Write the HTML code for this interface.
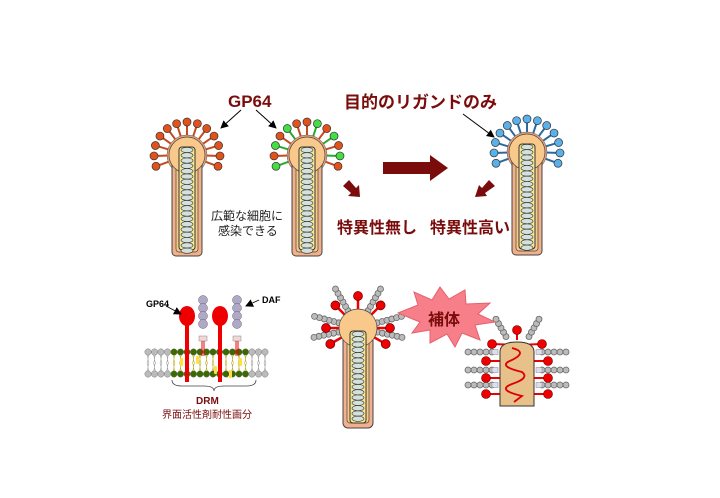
<!DOCTYPE html>
<html><head><meta charset="utf-8"><style>
html,body{margin:0;padding:0;background:#fff;}
svg{display:block;}
text{font-family:"Liberation Sans","Noto Sans CJK JP",sans-serif;}
</style></head><body>
<svg id="s" width="720" height="498" viewBox="0 0 720 498" xmlns="http://www.w3.org/2000/svg">
<defs>
<marker id="ah" markerWidth="8" markerHeight="8" refX="7" refY="4" orient="auto" markerUnits="userSpaceOnUse"><path d="M0,0 L8,4 L0,8 z" fill="#000"/></marker>
</defs>
<g id="g"></g>
<text x="228" y="107" font-size="17" font-weight="bold" fill="#7a0c0c">GP64</text>
<text x="344" y="108" font-size="17" font-weight="bold" fill="#7a0c0c">目的のリガンドのみ</text>
<text x="337" y="233" font-size="16" font-weight="bold" fill="#7a0c0c">特異性無し</text>
<text x="430" y="233" font-size="16" font-weight="bold" fill="#7a0c0c">特異性高い</text>
<text x="211" y="220" font-size="12" fill="#222">広範な細胞に</text>
<text x="218" y="235" font-size="12" fill="#222">感染できる</text>
<line x1="241" y1="110" x2="221" y2="128" stroke="#000" stroke-width="1" marker-end="url(#ah)"/>
<line x1="256" y1="110" x2="276" y2="128" stroke="#000" stroke-width="1" marker-end="url(#ah)"/>
<line x1="463" y1="114" x2="494" y2="137" stroke="#000" stroke-width="1" marker-end="url(#ah)"/>
<path d="M383,162 L430,162 L430,155 L448,168 L430,181 L430,174 L383,174 z" fill="#7a0c0c"/>
<path d="M343,186 L349,180 L356,188 L359,185 L360,197 L348,196 L351,193 z" fill="#7a0c0c"/>
<path d="M495,186 L489,180 L482,188 L479,185 L475,197 L487,196 L485,193 z" fill="#7a0c0c"/>
<text x="146" y="307" font-size="9" font-weight="bold" fill="#000">GP64</text>
<line x1="166" y1="306" x2="181" y2="314" stroke="#000" stroke-width="0.8" marker-end="url(#ah)"/>
<text x="262" y="303" font-size="9" font-weight="bold" fill="#000">DAF</text>
<line x1="259" y1="300" x2="246" y2="306" stroke="#000" stroke-width="0.8" marker-end="url(#ah)"/>
<path d="M172,380 q0,6 10,6 l22,0 q10,0 10,5 q0,-5 10,-5 l22,0 q10,0 10,-6" fill="none" stroke="#444" stroke-width="0.8"/>
<text x="196" y="404" font-size="10" font-weight="bold" fill="#7a0c0c">DRM</text>
<text x="162" y="418" font-size="10" fill="#7a0c0c">界面活性剤耐性画分</text>
<path d="M398,313 L418,305 L414,292 L432,300 L440,287 L449,299 L465,290 L466,304 L490,303 L478,314 L495,322 L475,325 L480,340 L462,333 L455,347 L447,334 L430,343 L430,330 L412,333 L420,322 z" fill="#f77f8a" stroke="#e5606c" stroke-width="1"/>
<text x="428" y="325" font-size="16" font-weight="bold" fill="#7a0c0c">補体</text>
</svg>
<script>
const g=document.getElementById('g');let h='';
function virus(cx,cy,cols,bot,r){
 r=r||18;
 const bx=cx-14,bw=28;
 let n=cols.length;
 for(let i=0;i<n;i++){
  const a=(200-220*i/(n-1))*Math.PI/180;
  const x1=cx+Math.cos(a)*r,y1=cy-Math.sin(a)*r,x2=cx+Math.cos(a)*33,y2=cy-Math.sin(a)*33;
  h+=`<line x1="${x1}" y1="${y1}" x2="${x2}" y2="${y2}" stroke="${cols[i][1]}" stroke-width="2"/>`;
  h+=`<circle cx="${x2}" cy="${y2}" r="4" fill="${cols[i][0]}" stroke="#333" stroke-width="0.7"/>`;
 }
 h+=`<circle cx="${cx}" cy="${cy}" r="${r+2}" fill="#e8a07a" stroke="#555" stroke-width="0.5"/>`;
 h+=`<rect x="${bx-1}" y="${cy}" width="${bw+2}" height="${bot-cy}" rx="4" fill="#f0b08a" stroke="#444" stroke-width="1"/>`;
 h+=`<rect x="${bx+3}" y="${cy}" width="${bw-6}" height="${bot-cy-4}" rx="3" fill="#f8c98a" stroke="#444" stroke-width="0.7"/>`;
 h+=`<circle cx="${cx}" cy="${cy}" r="${r}" fill="#f8c98a" stroke="#444" stroke-width="0.7"/>`;
 h+=`<rect x="${cx-8}" y="${cy-8}" width="16" height="${bot-cy+2}" rx="3" fill="#f7ea90" stroke="#333" stroke-width="1"/>`;
 for(let y=cy-5;y<bot-4;y+=5.3){h+=`<ellipse cx="${cx}" cy="${y}" rx="6" ry="2.6" fill="#d4e0dc" stroke="#333" stroke-width="0.6"/>`;}
}
const O=['#e4521c','#c44a20'],G=['#44dd44','#2aaa2a'],B=['#5ab0e8','#2a6aa0'];
virus(187,155,Array(13).fill(O),256);
virus(307,155,[G,O,G,O,G,O,O,G,O,G,O,G,O],256);
virus(527,152,Array(13).fill(B),255);
function chain(x,y,a,len,n){const c=Math.cos(a),s=Math.sin(a);for(let i=0;i<n;i++){const d=len+i*5;h+=`<circle cx="${x+c*d}" cy="${y-s*d}" r="3" fill="#bbb" stroke="#666" stroke-width="0.8"/>`;}}
(function(){const cx=358,cy=328;
 [60,120,15,165,-12,192].forEach(d=>chain(cx,cy,d*Math.PI/180,20,6));
 [90,45,135,0,180,-30,210].forEach(d=>{const a=d*Math.PI/180;const x2=cx+Math.cos(a)*32,y2=cy-Math.sin(a)*32;
  h+=`<line x1="${cx+Math.cos(a)*18}" y1="${cy-Math.sin(a)*18}" x2="${x2}" y2="${y2}" stroke="#e00" stroke-width="2.5"/><circle cx="${x2}" cy="${y2}" r="4.5" fill="#e00" stroke="#600" stroke-width="0.7"/>`;});
 h+=`<rect x="343" y="328" width="30" height="100" rx="5" fill="#f4b08c" stroke="#444"/><rect x="347" y="328" width="22" height="95" rx="3" fill="#f8c98a" stroke="#444" stroke-width="0.7"/><circle cx="${cx}" cy="${cy}" r="19" fill="#f8c98a" stroke="#444" stroke-width="0.7"/>`;
 h+=`<rect x="350" y="331" width="16" height="92" rx="3" fill="#f7ea90" stroke="#333"/>`;
 for(let y=334;y<420;y+=5.3)h+=`<ellipse cx="358" cy="${y}" rx="6" ry="2.6" fill="#d4e0dc" stroke="#333" stroke-width="0.6"/>`;
})();
(function(){
 chain(508,340,120*Math.PI/180,4,5);chain(527,340,60*Math.PI/180,4,5);
 [352,370,385].forEach(y=>{for(let i=0;i<5;i++){h+=`<circle cx="${492-i*6}" cy="${y}" r="3" fill="#bbb" stroke="#666" stroke-width="0.8"/><circle cx="${542+i*6}" cy="${y}" r="3" fill="#bbb" stroke="#666" stroke-width="0.8"/>`;}h+=`<rect x="492" y="${y-2.5}" width="6" height="5" fill="#dde" stroke="#888" stroke-width="0.5"/><rect x="536" y="${y-2.5}" width="6" height="5" fill="#dde" stroke="#888" stroke-width="0.5"/>`;});
 h+=`<line x1="517" y1="340" x2="517" y2="330" stroke="#e00" stroke-width="2"/><circle cx="517" cy="330" r="4.5" fill="#e00" stroke="#600" stroke-width="0.6"/>`;
 [[492,344],[542,344]].forEach(p=>h+=`<line x1="517" y1="345" x2="${p[0]}" y2="${p[1]}" stroke="#e00" stroke-width="2"/><circle cx="${p[0]}" cy="${p[1]}" r="4.5" fill="#e00" stroke="#600" stroke-width="0.6"/>`);
 [361,378,394].forEach(y=>{h+=`<line x1="486" y1="${y}" x2="548" y2="${y}" stroke="#e00" stroke-width="2"/><circle cx="486" cy="${y}" r="4.5" fill="#e00" stroke="#600" stroke-width="0.6"/><circle cx="548" cy="${y}" r="4.5" fill="#e00" stroke="#600" stroke-width="0.6"/>`;});
 h+=`<path d="M500,406 L500,352 Q500,342 517,342 Q534,342 534,352 L534,406 z" fill="#e8c08a" stroke="#333"/>`;
 h+=`<path d="M512,348 Q528,352 512,360 Q496,366 522,372 Q530,378 512,384 Q496,390 522,396 L514,402" fill="none" stroke="#d00" stroke-width="1.8"/>`;
})();
(function(){
 for(let x=148;x<=270;x+=6.5){const dr=x>172&&x<250;const c=dr?'#3a6a00':'#bbb',t=dr?'#bba820':'#999';
  h+=`<circle cx="${x}" cy="352" r="3.2" fill="${c}" stroke="#666" stroke-width="0.4"/><circle cx="${x}" cy="374" r="3.2" fill="${c}" stroke="#666" stroke-width="0.4"/>`;
  h+=`<path d="M${x-1},355 q2,4 0,8 M${x+1},355 q-2,4 0,8 M${x-1},363 q2,4 0,8 M${x+1},363 q-2,4 0,8" stroke="${t}" fill="none" stroke-width="0.6"/>`;}
 [[180,358],[196,356],[214,366],[229,370],[239,358]].forEach(p=>h+=`<rect x="${p[0]}" y="${p[1]}" width="3" height="8" rx="1" fill="#ffe040"/>`);
 [[187,316],[220,316]].forEach(p=>h+=`<rect x="${p[0]-2}" y="${p[1]}" width="4" height="66" fill="#e00"/><ellipse cx="${p[0]}" cy="${p[1]}" rx="8" ry="10" fill="#e00"/>`);
 [[203],[237]].forEach(p=>{const x=p[0];for(let i=0;i<4;i++)h+=`<circle cx="${x}" cy="${300+i*8}" r="4.5" fill="#b0a8c8" stroke="#666" stroke-width="0.5"/>`;h+=`<rect x="${x-4}" y="336" width="8" height="5" fill="#f0d8d8" stroke="#888" stroke-width="0.5"/><line x1="${x-1}" y1="341" x2="${x-1}" y2="356" stroke="#e00"/><line x1="${x+1}" y1="341" x2="${x+1}" y2="356" stroke="#e00"/>`;});
})();
g.innerHTML=h;
</script>
</body></html>
